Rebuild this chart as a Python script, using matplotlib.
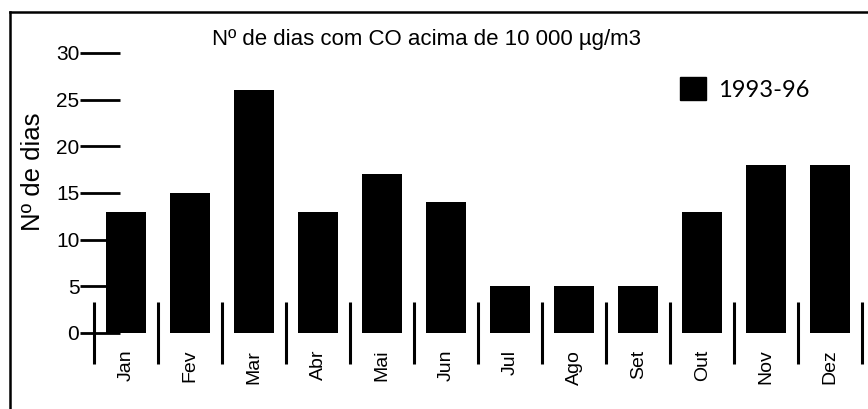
import matplotlib
matplotlib.use("Agg")
import matplotlib.pyplot as plt
from matplotlib.lines import Line2D
from matplotlib.patches import Patch
import numpy as np

# ── Data ───────────────────────────────────────────────────────
months = ["Jan", "Fev", "Mar", "Abr", "Mai", "Jun",
          "Jul", "Ago", "Set", "Out", "Nov", "Dez"]
dias   = [13, 15, 26, 13, 17, 14, 5, 5, 5, 13, 18, 18]
yticks = [0, 5, 10, 15, 20, 25, 30]

plt.rcParams["font.family"] = ["Liberation Sans", "DejaVu Sans"]

W, H = 868, 409
fig = plt.figure(figsize=(W / 100, H / 100), dpi=100)

# axes: x=-0.72 at px 80, y=0 at px 333, y=30 at px 53
ax = fig.add_axes([80 / W, (H - 333) / H, 788 / W, 280 / H])
x = np.arange(len(months))
ax.bar(x, dias, width=0.62, color="black")

ax.set_xlim(-0.72, 11.59)
ax.set_ylim(0, 30)
for s in ax.spines.values():
    s.set_visible(False)

# y ticks as long lines pointing into the plot
ax.set_yticks(yticks)
ax.tick_params(axis="y", direction="in", length=29, width=2.0,
               pad=0.5, labelsize=15)

# month labels at centres, separators between months
ax.set_xticks(x)
ax.set_xticklabels(months, rotation=90, fontsize=14, va="top")
ax.tick_params(axis="x", which="major", length=0, pad=12)
ax.set_xticks(np.append(x - 0.5, 11.5), minor=True)
ax.tick_params(axis="x", which="minor", direction="inout",
               length=45, width=2.2)

# y label
fig.text(33 / W, (H - 172) / H, "Nº de dias", rotation=90,
         fontsize=18.5, ha="center", va="center")

# title
fig.text(212 / W, (H - 45) / H, "Nº de dias com CO acima de 10 000 µg/m3",
         fontsize=16, ha="left", va="baseline")

# legend
handle = Patch(facecolor="black", edgecolor="black")
fig.legend([handle], ["1993-96"], loc="center left",
           bbox_to_anchor=(668 / W, (H - 89) / H), frameon=False,
           borderpad=0, handlelength=1.1, handleheight=1.1,
           handletextpad=0.5, prop={"family": "Lato", "size": 17})

# scanned frame (top and left edges)
fig.add_artist(Line2D([10 / W, 1], [(H - 12) / H] * 2,
                      color="black", lw=1.8))
fig.add_artist(Line2D([10 / W] * 2, [0, (H - 12) / H],
                      color="black", lw=1.8))

fig.savefig("out.png", dpi=100)
